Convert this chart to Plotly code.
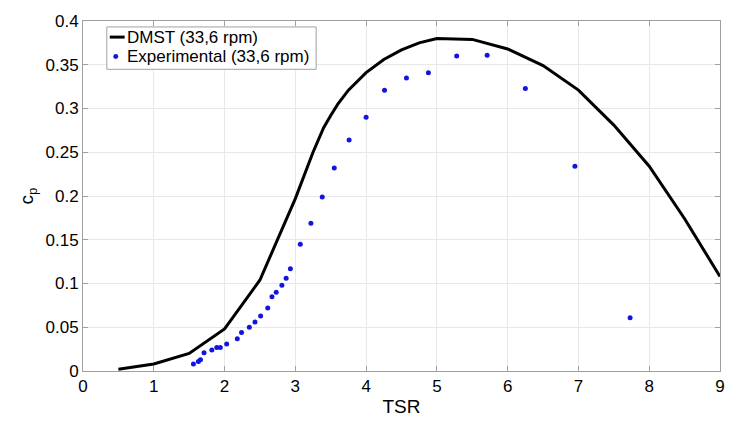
import plotly.graph_objects as go

# DMST model curve (33,6 rpm)
dmst_tsr = [0.5, 1.0, 1.5, 2.0, 2.5, 3.0, 3.25, 3.4, 3.5, 3.6, 3.75, 4.0, 4.25, 4.5, 4.75, 5.0, 5.5, 6.0, 6.5, 7.0, 7.5, 8.0, 8.5, 9.0]
dmst_cp = [0.002, 0.008, 0.020, 0.048, 0.104, 0.197, 0.250, 0.278, 0.292, 0.305, 0.321, 0.341, 0.356, 0.367, 0.375, 0.380, 0.379, 0.368, 0.349, 0.321, 0.281, 0.234, 0.174, 0.108]

# Experimental points (33,6 rpm)
exp_tsr = [1.56, 1.63, 1.66, 1.71, 1.82, 1.89, 1.94, 2.03, 2.18, 2.24, 2.35, 2.43, 2.51, 2.61, 2.67, 2.73, 2.81, 2.87, 2.93, 3.07, 3.22, 3.38, 3.55, 3.76, 4.00, 4.26, 4.57, 4.88, 5.28, 5.71, 6.25, 6.95, 7.73]
exp_cp = [0.008, 0.011, 0.013, 0.021, 0.024, 0.027, 0.027, 0.031, 0.037, 0.044, 0.050, 0.056, 0.063, 0.072, 0.085, 0.090, 0.098, 0.106, 0.117, 0.145, 0.169, 0.199, 0.232, 0.264, 0.290, 0.321, 0.335, 0.341, 0.360, 0.361, 0.323, 0.234, 0.061]

x_ticks = [0, 1, 2, 3, 4, 5, 6, 7, 8, 9]
y_ticks = [0, 0.05, 0.1, 0.15, 0.2, 0.25, 0.3, 0.35, 0.4]
legend_labels = ["DMST (33,6 rpm)", "Experimental (33,6 rpm)"]

LINE_COLOR = "black"
DOT_COLOR = "rgb(20,20,225)"

fig = go.Figure()
fig.add_trace(go.Scatter(x=dmst_tsr, y=dmst_cp, mode="lines", name=legend_labels[0],
                         line=dict(color=LINE_COLOR, width=3), showlegend=False))
fig.add_trace(go.Scatter(x=exp_tsr, y=exp_cp, mode="markers", name=legend_labels[1],
                         marker=dict(color=DOT_COLOR, size=5), showlegend=False))

axis_common = dict(showgrid=True, gridcolor="rgb(232,232,232)", gridwidth=1,
                   showline=True, linecolor="rgb(160,160,160)", linewidth=1, mirror="ticks",
                   ticks="inside", ticklen=5, tickcolor="rgb(160,160,160)", zeroline=False,
                   tickfont=dict(family="Liberation Sans, Arial", size=17, color="black"))

# compact legend (MATLAB style) drawn in paper coordinates
row_y = [0.954, 0.8986]
shapes = [
    dict(type="rect", xref="paper", yref="paper", x0=0.0374, x1=0.366, y0=0.862, y1=0.983,
         line=dict(color="rgb(160,160,160)", width=1), fillcolor="white", layer="above"),
    dict(type="line", xref="paper", yref="paper", x0=0.042, x1=0.0654, y0=row_y[0], y1=row_y[0],
         line=dict(color=LINE_COLOR, width=3), layer="above"),
    dict(type="circle", xref="paper", yref="paper", x0=0.0514 - 0.0039, x1=0.0514 + 0.0039,
         y0=row_y[1] - 0.0071, y1=row_y[1] + 0.0071,
         line=dict(color=DOT_COLOR, width=0), fillcolor=DOT_COLOR, layer="above"),
]
annotations = [
    dict(text=legend_labels[i], xref="paper", yref="paper", x=0.0675, y=row_y[i],
         xanchor="left", yanchor="middle", showarrow=False, borderpad=0,
         font=dict(family="Liberation Sans, Arial", size=17, color="black"))
    for i in range(2)
]

fig.update_layout(
    width=731, height=423,
    margin=dict(l=83, r=6, t=21, b=52),
    paper_bgcolor="white", plot_bgcolor="white",
    font=dict(family="Liberation Sans, Arial", color="black"),
    xaxis=dict(range=[0, 9], tickvals=x_ticks, ticktext=[str(v) for v in x_ticks],
               title=dict(text="TSR", font=dict(size=19), standoff=4), **axis_common),
    yaxis=dict(range=[0, 0.4], tickvals=y_ticks, ticktext=[("%g" % v) for v in y_ticks],
               title=dict(text="c<sub>p</sub>", font=dict(size=19), standoff=6), **axis_common),
    shapes=shapes,
    annotations=annotations,
    showlegend=False,
)

fig.write_html("out.html")
